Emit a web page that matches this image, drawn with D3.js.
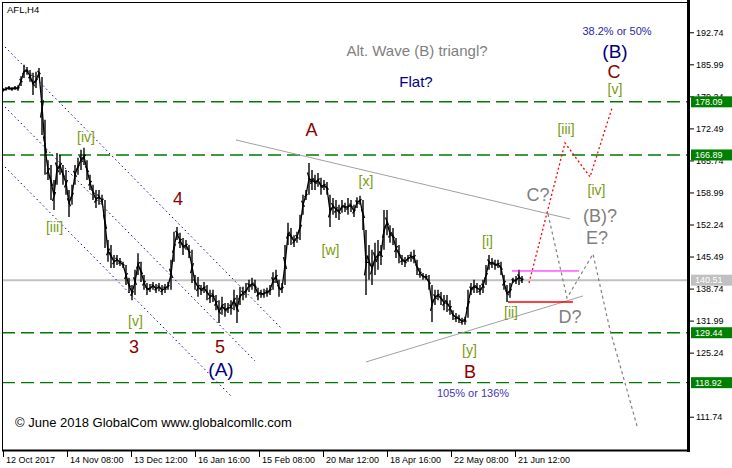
<!DOCTYPE html>
<html><head><meta charset="utf-8">
<script src="https://cdn.jsdelivr.net/npm/d3@7"></script>
<style>
body{margin:0;background:#fff;}
svg{display:block;font-family:"Liberation Sans",Arial,sans-serif;}
</style></head><body>
<svg id="c" width="732" height="468"></svg>
<script>
// ---- data ----
const symbol = "AFL,H4";
const barStep = 3; // each stored bar stands for 3 chart bars
const highs = [181.0,181.2,181.4,181.2,181.4,181.6,183.5,185.9,185.4,184.8,
184.2,184.4,185.2,183.3,174.3,165.8,164.8,161.6,167.3,166.9,
164.8,163.7,159.5,160.6,164.8,166.3,168.0,168.4,165.8,162.7,
160.6,159.5,159.5,158.5,157.4,149.0,147.9,145.8,145.8,145.2,
144.4,143.7,141.0,139.5,142.7,146.2,144.4,141.6,139.9,139.7,
140.1,139.7,139.9,139.5,139.7,140.1,144.8,150.7,151.7,150.5,
149.4,149.0,147.9,146.9,141.6,141.2,139.5,140.1,139.5,138.5,
138.5,137.4,136.3,137.0,135.7,135.7,136.3,138.5,137.4,139.1,
139.1,139.9,140.6,141.0,140.6,138.9,138.5,138.7,138.9,139.5,
142.2,142.7,140.6,139.9,147.9,152.6,151.5,150.0,150.7,154.3,
158.5,159.5,165.2,163.7,162.7,163.1,162.1,161.6,161.2,158.5,
157.8,157.4,156.4,157.4,156.8,157.8,157.4,156.4,158.0,158.3,
157.4,151.1,147.9,146.9,148.4,149.0,147.9,155.3,155.3,152.1,
151.5,149.4,147.9,145.8,145.4,145.8,146.5,146.9,144.8,143.1,
142.0,141.8,141.6,139.5,138.5,138.5,138.0,137.4,137.4,136.3,
134.2,133.6,133.2,132.6,132.8,138.5,139.9,140.6,139.9,139.5,
140.6,143.7,145.8,145.2,144.8,144.8,144.4,141.6,139.5,139.9,
141.0,141.4,142.7,141.4];
const lows = [180.2,180.4,180.6,180.4,180.6,180.4,181.4,183.1,183.8,182.3,
179.5,181.0,183.1,171.1,162.7,161.6,157.4,155.3,160.6,162.7,
160.6,158.5,153.8,156.4,160.6,162.7,163.7,164.8,161.6,159.5,
157.4,155.7,156.4,156.4,147.3,144.4,143.1,143.1,143.7,143.5,
143.1,139.5,137.8,136.3,137.4,141.6,140.1,138.5,137.4,138.0,
138.5,137.8,138.2,137.4,137.8,138.5,138.5,144.4,149.0,147.3,
145.8,146.9,145.2,139.9,138.5,137.0,137.4,137.8,136.3,135.7,
135.9,134.2,131.5,133.2,132.8,133.6,133.2,134.2,131.5,135.3,
136.3,136.8,138.0,138.5,137.8,136.3,136.8,136.8,137.0,137.4,
138.5,139.9,137.0,137.8,139.5,147.9,147.9,147.5,148.4,149.0,
154.3,157.4,158.5,159.5,159.5,160.2,158.5,159.5,158.5,151.7,
154.3,153.6,153.2,154.7,154.9,154.3,154.9,153.8,155.7,156.4,
151.1,137.4,140.6,139.5,141.6,142.7,143.7,146.9,150.0,148.4,
147.9,145.2,144.1,143.7,143.3,144.4,144.4,144.1,141.6,141.0,
140.6,140.6,138.5,131.7,135.3,136.3,135.3,134.2,133.8,133.2,
132.1,131.7,131.5,131.1,131.1,132.6,137.4,137.8,137.8,137.4,
137.8,139.5,142.7,143.1,142.7,143.1,141.6,138.5,135.9,136.8,
139.9,139.7,139.5,139.9];

const priceTicks = [192.74,185.99,179.24,172.49,165.74,158.99,152.24,145.49,138.74,131.99,125.24,111.74];
const timeTickBars = [0,64,128,192,256,320,384,448,512];
const timeTickLabels = ["12 Oct 2017","14 Nov 08:00","13 Dec 12:00","16 Jan 16:00","15 Feb 08:00","20 Mar 12:00","18 Apr 16:00","22 May 08:00","21 Jun 12:00"];
const levels = [178.09,166.89,129.44,118.92];
const lastPrice = 140.51;

// channel lines [bar1, price1, bar2, price2]
const channelLines = [[2,189.65,278,130.44],[2,177.01,252,123.49],[2,164.36,229,115.90]];
const triangleLines = [[233,170.05,567,153.41],[363,123.28,580,137.18]];
const redLevel = [505,570,135.92];
const magentaLevel = [509,576,142.45];
const mainProjBars = [526,562,587,609];
const mainProjPrices = [139.92,169.42,162.26,176.79];
const altProjBars = [545,564,590,607,622,634];
const altProjPrices = [154.46,136.76,146.03,130.02,118.85,109.79];

const annotations = [
 ["[iii]",51.5,151.7,"minor"],["[iv]",83,170.5,"minor"],["[v]",132.5,131.9,"minor"],
 ["3",131,126.4,"inter"],["5",217,126.4,"inter"],["(A)",218,121.6,"primary"],
 ["4",175,157.6,"inter"],["A",308.5,172.0,"inter"],["[x]",363,161.4,"minor"],
 ["[w]",327.5,146.7,"minor"],["[i]",484.5,148.6,"minor"],["[y]",466.5,125.6,"minor"],
 ["B",467,121.2,"inter"],["105% or 136%",470,116.7,"ratio"],["[ii]",508,133.8,"minor"],
 ["D?",567,132.8,"alt"],["E?",594,149.4,"alt"],["(B)?",597,154.0,"alt"],
 ["[iv]",593.5,159.3,"minor"],["C?",535,158.5,"alt"],["[iii]",563,172.2,"minor"],
 ["[v]",612,180.6,"minor"],["C",611,184.4,"inter"],["(B)",612,188.6,"primary"],
 ["38.2% or 50%",614,193.0,"ratio2"],["Alt. Wave (B) triangl?",414,188.8,"note"],
 ["Flat?",413,182.3,"flat"]
];
const copyright = ["© June 2018 GlobalCom www.globalcomllc.com",12,110.53];

// ---- styles ----
const styles = {
 minor:{size:14,fill:"#7a9a10"}, inter:{size:18,fill:"#8b0000"}, primary:{size:19,fill:"#000080"},
 alt:{size:18,fill:"#808080"}, ratio:{size:11,fill:"#4433bb"}, ratio2:{size:11,fill:"#2a2aa0"},
 note:{size:15,fill:"#808080"}, flat:{size:15,fill:"#00008b"}
};

// ---- chart ----
const L=2, R=688, T=2, B=450;
const svg = d3.select("#c");
const x = d3.scaleLinear().domain([0,685]).range([3,688]);
const y = d3.scaleLinear().domain([104.73,199.12]).range([B,T]);

svg.append("clipPath").attr("id","clp").append("rect").attr("x",L).attr("y",T).attr("width",R-L).attr("height",B-T);
const g = svg.append("g").attr("clip-path","url(#clp)");

// levels
g.selectAll(".lvl").data(levels).join("line")
 .attr("x1",L).attr("x2",R).attr("y1",d=>y(d)).attr("y2",d=>y(d))
 .attr("stroke","#007a00").attr("stroke-width",1.4).attr("stroke-dasharray","13,6");
g.append("line").attr("x1",L).attr("x2",R).attr("y1",y(lastPrice)).attr("y2",y(lastPrice))
 .attr("stroke","#c0c0c0").attr("stroke-width",2);

// channel
g.selectAll(".ch").data(channelLines).join("line")
 .attr("x1",d=>x(d[0])).attr("y1",d=>y(d[1])).attr("x2",d=>x(d[2])).attr("y2",d=>y(d[3]))
 .attr("stroke","#00008b").attr("stroke-width",1).attr("stroke-dasharray","1.5,3");
// triangle
g.selectAll(".tr").data(triangleLines).join("line")
 .attr("x1",d=>x(d[0])).attr("y1",d=>y(d[1])).attr("x2",d=>x(d[2])).attr("y2",d=>y(d[3]))
 .attr("stroke","#a0a0a0").attr("stroke-width",1);

// price bars: high-low spikes plus a line through bar midpoints
const bars = highs.map((h,i)=>({i, h, l:lows[i]}));
g.selectAll(".bar").data(bars).join("line")
 .attr("x1",d=>x(d.i*barStep)).attr("x2",d=>x(d.i*barStep))
 .attr("y1",d=>y(d.h)).attr("y2",d=>y(d.l)).attr("stroke","#000").attr("stroke-width",1.4);
g.selectAll(".tk").data(bars).join("line")
 .attr("x1",d=>x(d.i*barStep)-1.5).attr("x2",d=>x(d.i*barStep)+1.5)
 .attr("y1",(d,k)=>y(k%2?d.l*0.7+d.h*0.3:d.h*0.7+d.l*0.3)).attr("y2",(d,k)=>y(k%2?d.h*0.6+d.l*0.4:d.l*0.6+d.h*0.4))
 .attr("stroke","#000").attr("stroke-width",1.3);
g.append("path").attr("d",d3.line().curve(d3.curveLinear)(bars.map(d=>[x(d.i*barStep),y((d.h+d.l)/2)])))
 .attr("fill","none").attr("stroke","#000").attr("stroke-width",1.3);

// red & magenta levels
g.append("line").attr("x1",x(redLevel[0])).attr("x2",x(redLevel[1])).attr("y1",y(redLevel[2])).attr("y2",y(redLevel[2]))
 .attr("stroke","#ff0000").attr("stroke-width",1.5);
g.append("line").attr("x1",x(magentaLevel[0])).attr("x2",x(magentaLevel[1])).attr("y1",y(magentaLevel[2])).attr("y2",y(magentaLevel[2]))
 .attr("stroke","#ff00ff").attr("stroke-width",1);

// projections
const ln = d3.line();
g.append("path").attr("d",ln(mainProjBars.map((b,i)=>[x(b),y(mainProjPrices[i])])))
 .attr("fill","none").attr("stroke","#ff0000").attr("stroke-width",1.3).attr("stroke-dasharray","2,2.5");
g.append("path").attr("d",ln(altProjBars.map((b,i)=>[x(b),y(altProjPrices[i])])))
 .attr("fill","none").attr("stroke","#808080").attr("stroke-width",1.2).attr("stroke-dasharray","3,3");

// annotations
g.selectAll(".ann").data(annotations).join("text")
 .attr("x",d=>x(d[1])).attr("y",d=>y(d[2])).attr("dy","0.32em")
 .attr("text-anchor","middle").attr("font-size",d=>styles[d[3]].size).attr("fill",d=>styles[d[3]].fill)
 .text(d=>d[0]);
g.append("text").attr("x",x(copyright[1])).attr("y",y(copyright[2])).attr("dy","0.35em")
 .attr("font-size",13).attr("fill","#000").text(copyright[0]);

svg.append("text").attr("x",7).attr("y",13).attr("font-size",9.5).attr("fill","#000").text(symbol);

// frame
svg.append("line").attr("x1",L+0.5).attr("x2",L+0.5).attr("y1",T).attr("y2",B+1).attr("stroke","#000");
svg.append("line").attr("x1",L).attr("x2",R).attr("y1",T+0.5).attr("y2",T+0.5).attr("stroke","#000");
svg.append("line").attr("x1",L).attr("x2",R+2).attr("y1",B+0.5).attr("y2",B+0.5).attr("stroke","#000").attr("stroke-width",2);
svg.append("line").attr("x1",R+0.5).attr("x2",R+0.5).attr("y1",0).attr("y2",B+2).attr("stroke","#000").attr("stroke-width",3);

// y axis
const ya = svg.append("g").attr("transform",`translate(${R+2},0)`)
 .call(d3.axisRight(y).tickValues(priceTicks).tickSize(4).tickPadding(2).tickFormat(d3.format(".2f")));
ya.select(".domain").remove();
ya.selectAll("text").attr("font-size",9).attr("font-family","Liberation Sans,Arial,sans-serif").attr("fill","#000");

// level boxes
const boxes = levels.map(v=>({v,c:"#008000"})).concat([{v:lastPrice,c:"#c0c0c0"}]);
const bx = svg.selectAll(".bx").data(boxes).join("g").attr("transform",d=>`translate(${R+3},${y(d.v)})`);
bx.append("rect").attr("x",0).attr("y",-5.5).attr("width",44).attr("height",11).attr("fill",d=>d.c);
bx.append("text").attr("x",4).attr("dy","0.34em").attr("font-size",9).attr("fill","#fff").text(d=>d.v.toFixed(2));

// x axis
const xa = svg.append("g").attr("transform",`translate(0,${B+1})`);
xa.selectAll("line").data(timeTickBars).join("line")
 .attr("x1",d=>x(d)+0.5).attr("x2",d=>x(d)+0.5).attr("y1",0).attr("y2",6).attr("stroke","#000");
xa.selectAll("text").data(timeTickBars).join("text")
 .attr("x",d=>x(d)+3).attr("y",12).attr("font-size",9).attr("fill","#000")
 .text((d,i)=>timeTickLabels[i]);
</script>
</body></html>
